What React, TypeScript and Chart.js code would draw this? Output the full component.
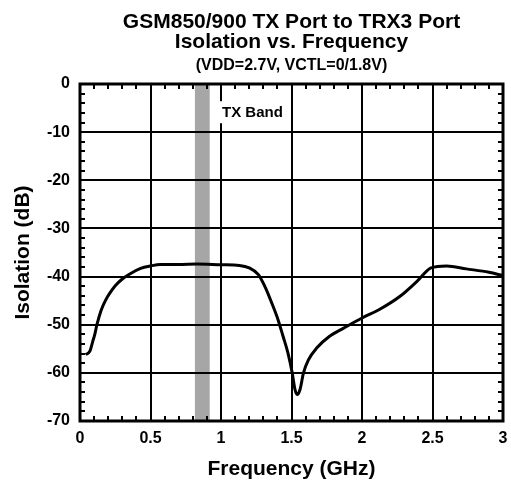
import React, { useEffect, useRef } from "react";
import { Chart, registerables } from "chart.js";

Chart.register(...registerables);

const freqGHz = [0.04, 0.07, 0.09, 0.105, 0.12, 0.15, 0.18, 0.21, 0.25, 0.3, 0.35, 0.43, 0.5, 0.57, 0.7, 0.83, 1.0, 1.13, 1.2, 1.265, 1.31, 1.36, 1.405, 1.44, 1.475, 1.505, 1.525, 1.54, 1.56, 1.585, 1.62, 1.68, 1.77, 1.87, 2.0, 2.12, 2.27, 2.39, 2.49, 2.6, 2.74, 2.9, 3.0];
const isolationDb = [-56.2, -55.5, -53.5, -52, -50, -47, -45.0, -43.5, -41.9, -40.5, -39.5, -38.3, -37.8, -37.5, -37.5, -37.4, -37.55, -37.7, -38.2, -39.6, -42, -45.5, -49, -52.4, -55.9, -60, -63.5, -64.5, -63.5, -60, -57.3, -54.8, -52.4, -50.7, -48.6, -46.9, -44.1, -41, -38.2, -37.8, -38.4, -39.1, -39.8];

const xTicks = [0, 0.5, 1, 1.5, 2, 2.5, 3];
const xTickLabels = ["0", "0.5", "1", "1.5", "2", "2.5", "3"];
const yTicks = [0, -10, -20, -30, -40, -50, -60, -70];
const yTickLabels = ["0", "-10", "-20", "-30", "-40", "-50", "-60", "-70"];

const txBand = [0.815, 0.92];
const txBandLabel = "TX Band";
const titleLines = ["GSM850/900 TX Port to TRX3 Port", "Isolation vs. Frequency"];
const subtitle = "(VDD=2.7V, VCTL=0/1.8V)";
const xTitle = "Frequency (GHz)";
const yTitle = "Isolation (dB)";

const FONT = "'Liberation Sans', Arial, Helvetica, sans-serif";

const decorPlugin = {
  id: "decor",
  beforeDraw(chart: any) {
    const { ctx, chartArea: a, scales } = chart;
    const x = scales.x;
    ctx.save();
    ctx.fillStyle = "#a6a6a6";
    const x0 = x.getPixelForValue(txBand[0]);
    const x1 = x.getPixelForValue(txBand[1]);
    ctx.fillRect(x0, a.top, x1 - x0, a.bottom - a.top);
    ctx.restore();
  },
  afterDraw(chart: any) {
    const { ctx, chartArea: a, scales } = chart;
    const x = scales.x;
    const y = scales.y;
    ctx.save();
    ctx.strokeStyle = "#000";
    ctx.lineWidth = 2;
    const tl = 5;
    ctx.beginPath();
    for (let i = 1; i < 30; i++) {
      if (i % 5 === 0) continue;
      const px = Math.round(x.getPixelForValue(i / 10));
      ctx.moveTo(px, a.top);
      ctx.lineTo(px, a.top + tl);
      ctx.moveTo(px, a.bottom);
      ctx.lineTo(px, a.bottom - tl);
    }
    for (let v = -2; v > -70; v -= 2) {
      if (v % 10 === 0) continue;
      const py = Math.round(y.getPixelForValue(v));
      ctx.moveTo(a.left, py);
      ctx.lineTo(a.left + tl, py);
      ctx.moveTo(a.right, py);
      ctx.lineTo(a.right - tl, py);
    }
    ctx.stroke();
    ctx.lineWidth = 3;
    ctx.strokeRect(a.left, a.top, a.right - a.left, a.bottom - a.top);

    ctx.font = `bold 15px ${FONT}`;
    const tw = ctx.measureText(txBandLabel).width;
    const lx = x.getPixelForValue(1.0) + 1;
    const ly = y.getPixelForValue(-6.9);
    ctx.fillStyle = "#fff";
    ctx.fillRect(lx - 4, ly - 16, tw + 6, 22);
    ctx.fillStyle = "#000";
    ctx.textAlign = "left";
    ctx.textBaseline = "alphabetic";
    ctx.fillText(txBandLabel, lx, ly);

    const cx = (a.left + a.right) / 2;
    ctx.textAlign = "center";
    ctx.font = `bold 21px ${FONT}`;
    ctx.fillText(titleLines[0], cx, 28);
    ctx.fillText(titleLines[1], cx, 48);
    ctx.font = `bold 16px ${FONT}`;
    ctx.fillText(subtitle, cx, 70);

    ctx.font = `bold 21px ${FONT}`;
    ctx.fillText(xTitle, cx, 475);
    ctx.save();
    ctx.translate(29, (a.top + a.bottom) / 2);
    ctx.rotate(-Math.PI / 2);
    ctx.fillText(yTitle, 0, 0);
    ctx.restore();
    ctx.restore();
  },
};

export default function App() {
  const ref = useRef<HTMLCanvasElement | null>(null);
  useEffect(() => {
    if (!ref.current) return;
    const points = freqGHz.map((f, i) => ({ x: f, y: isolationDb[i] }));
    const chart = new Chart(ref.current, {
      type: "line",
      data: {
        datasets: [
          {
            data: points,
            borderColor: "#000",
            borderWidth: 3,
            pointRadius: 0,
            fill: false,
            cubicInterpolationMode: "monotone",
          },
        ],
      },
      options: {
        animation: false,
        responsive: false,
        events: [],
        layout: { padding: { top: 84, right: 8, left: 0, bottom: 0 } },
        plugins: { legend: { display: false }, title: { display: false }, tooltip: { enabled: false } },
        scales: {
          x: {
            type: "linear",
            min: 0,
            max: 3,
            afterFit: (s: any) => { s.height = 60; s.paddingRight = 0; s.paddingLeft = 0; },
            afterBuildTicks: (s: any) => { s.ticks = xTicks.map((v) => ({ value: v })); },
            ticks: {
              color: "#000",
              font: { family: FONT, size: 16, weight: "bold" },
              padding: 8,
              maxRotation: 0,
              autoSkip: false,
              callback: (v: any) => { const i = xTicks.indexOf(Number(v)); return i >= 0 ? xTickLabels[i] : ""; },
            },
            grid: { color: "#000", lineWidth: 2, drawTicks: false },
            border: { display: false },
          },
          y: {
            type: "linear",
            min: -70,
            max: 0,
            afterFit: (s: any) => { s.width = 80; s.paddingTop = 0; s.paddingBottom = 0; },
            afterBuildTicks: (s: any) => { s.ticks = yTicks.map((v) => ({ value: v })); },
            ticks: {
              color: "#000",
              font: { family: FONT, size: 16, weight: "bold" },
              padding: 10,
              autoSkip: false,
              callback: (v: any) => { const i = yTicks.indexOf(Number(v)); return i >= 0 ? yTickLabels[i] : ""; },
            },
            grid: { color: "#000", lineWidth: 2, drawTicks: false },
            border: { display: false },
          },
        },
      },
      plugins: [decorPlugin],
    } as any);
    return () => chart.destroy();
  }, []);
  return (
    <div style={{ position: "fixed", left: 0, top: 0, width: 511, height: 481, background: "#fff" }}>
      <canvas ref={ref} width={511} height={481} style={{ display: "block", width: 511, height: 481 }} />
    </div>
  );
}
